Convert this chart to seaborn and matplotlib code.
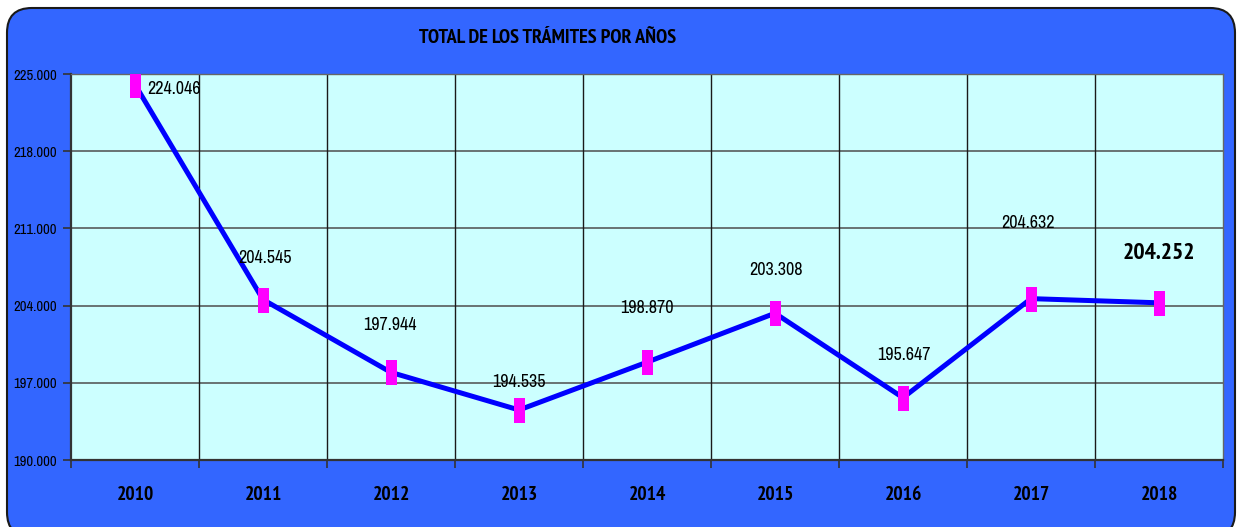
import numpy as np
import pandas as pd
import matplotlib
matplotlib.use("Agg")
import matplotlib.pyplot as plt
from matplotlib import font_manager
from matplotlib.font_manager import FontProperties
from matplotlib.patches import FancyBboxPatch
from matplotlib.path import Path
from matplotlib.ticker import FixedLocator, FuncFormatter
import seaborn as sns

# chart data
years = ["2010", "2011", "2012", "2013", "2014", "2015", "2016", "2017", "2018"]
tramites = [224046, 204545, 197944, 194535, 198870, 203308, 195647, 204632, 204252]
y_ticks = [190000, 197000, 204000, 211000, 218000, 225000]
title = "TOTAL DE LOS TRÁMITES POR AÑOS"

# label offsets in pixels (dx, dy) from each point
label_offsets = [(12, -4), (2, 42), (-1, 47), (0, 28), (0, 54), (1, 43), (1, 43), (-3, 76), (0, 49)]

df = pd.DataFrame({"year": years, "total": tramites})


# the original uses Arial Narrow; find narrow regular + bold font files
def weight_num(w):
    if isinstance(w, str):
        return font_manager.weight_dict.get(w, 400)
    return w


def find_narrow(want_bold):
    best = None
    for f in font_manager.fontManager.ttflist:
        narrow = ("Narrow" in f.name or "Condensed" in f.name
                  or f.stretch in ("condensed", "semi-condensed"))
        if not narrow or f.style != "normal":
            continue
        w = weight_num(f.weight)
        ok = w >= 600 if want_bold else 350 <= w <= 500
        if not ok:
            continue
        rank = 0 if "Narrow" in f.name else (1 if "Condensed" in f.name else 2)
        if best is None or rank < best[0]:
            best = (rank, f.fname)
    return best[1] if best else None


reg_file = find_narrow(False)
bold_file = find_narrow(True)
fp_reg = FontProperties(fname=reg_file) if reg_file else FontProperties(family="Liberation Sans")
fp_bold = FontProperties(fname=bold_file) if bold_file else FontProperties(family="Liberation Sans", weight="bold")

sns.set_style("white")
plt.rcParams["text.color"] = "black"

fig = plt.figure(figsize=(12.39, 5.27), dpi=100, facecolor="white")

# blue rounded panel behind everything
W, H = 1239, 527
panel = FancyBboxPatch((7 / W, -10 / H), 1228 / W, 529 / H,
                       boxstyle="round,pad=0,rounding_size=0.02",
                       transform=fig.transFigure, facecolor="#3366FF",
                       edgecolor="#1a1a1a", linewidth=1.5, mutation_aspect=W / H,
                       zorder=-5)
fig.patches.append(panel)

ax = fig.add_axes([71 / W, 1 - 460 / H, 1152 / W, 386 / H])
ax.set_zorder(2)
ax.set_facecolor("#CCFFFF")

# tall rectangle marker
rect = Path([(-0.22, -0.5), (0.22, -0.5), (0.22, 0.5), (-0.22, 0.5), (-0.22, -0.5)])

sns.lineplot(data=df, x="year", y="total", ax=ax, color="#0000FF", linewidth=3.6,
             marker=rect, markersize=18, markerfacecolor="#FF00FF",
             markeredgecolor="#FF00FF", markeredgewidth=0, sort=False, zorder=3)

ax.set_xlim(-0.5, len(years) - 0.5)
ax.set_ylim(190000, 225000)

# grid
ax.set_yticks(y_ticks)
ax.yaxis.set_major_formatter(FuncFormatter(lambda v, p: f"{v / 1000:.3f}"))
for v in y_ticks[1:]:
    ax.axhline(v, color="#4d4d4d", linewidth=1.1, zorder=1)
bounds = np.arange(len(years) + 1) - 0.5
ax.xaxis.set_minor_locator(FixedLocator(bounds))
for b in bounds[1:-1]:
    ax.axvline(b, color="#1a1a1a", linewidth=1.0, zorder=1)

ax.set_xlabel("")
ax.set_ylabel("")
ax.tick_params(axis="x", which="major", length=0, pad=19, labelcolor="black")
ax.tick_params(axis="x", which="minor", length=6, width=1.2, color="#333333", bottom=True)
ax.tick_params(axis="y", length=6, width=1.2, color="#333333", pad=4,
               labelcolor="black", left=True)
for lab in ax.get_xticklabels():
    lab.set_fontproperties(fp_bold)
    lab.set_fontsize(14)
for lab in ax.get_yticklabels():
    lab.set_fontproperties(fp_reg)
    lab.set_fontsize(10.5)

for side in ["left", "bottom"]:
    ax.spines[side].set_color("#333333")
    ax.spines[side].set_linewidth(1.6)
for side in ["top", "right"]:
    ax.spines[side].set_color("#666666")
    ax.spines[side].set_linewidth(1.0)

# value labels
for i, (v, off) in enumerate(zip(tramites, label_offsets)):
    txt = f"{v / 1000:.3f}"
    last = i == len(tramites) - 1
    ax.annotate(txt, (i, v), xytext=off, textcoords="offset pixels",
                ha="left" if i == 0 else "center", va="center",
                fontproperties=fp_bold if last else fp_reg,
                fontsize=17 if last else 13, color="black", zorder=4)

fig.text(548 / W, 1 - 38 / H, title, ha="center", va="center",
         fontproperties=fp_bold, fontsize=14.5, color="black")

fig.savefig("out.png", dpi=100, facecolor="white")
